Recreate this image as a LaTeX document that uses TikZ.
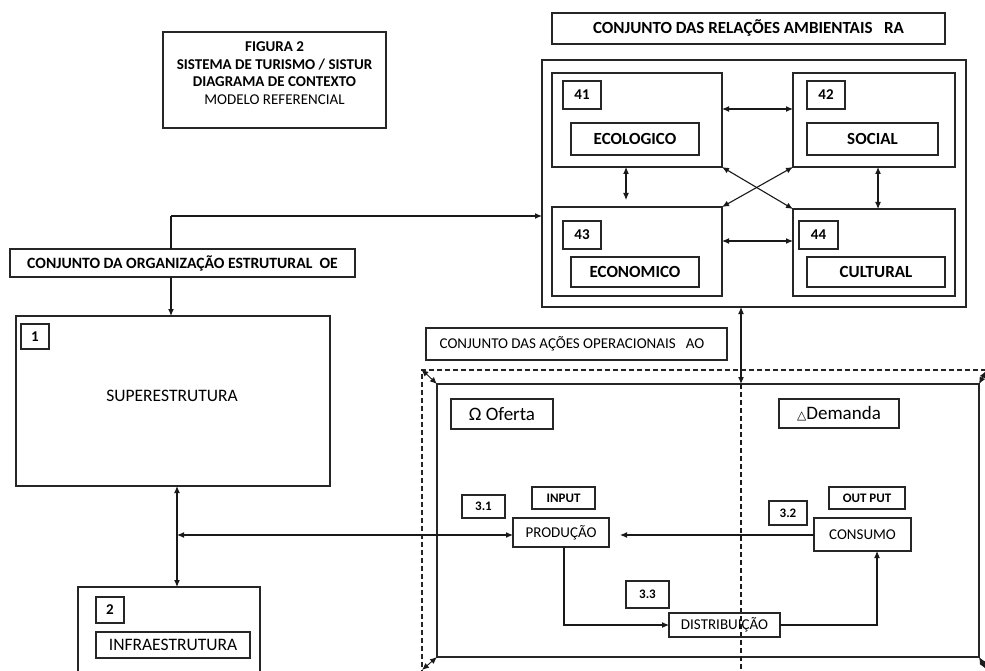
\documentclass[tikz,border=0pt]{standalone}
\usepackage{fontspec}
\setmainfont{Carlito}
\newfontfamily\dejavu{DejaVu Sans}
\usetikzlibrary{arrows.meta,calc}
\tikzset{
  bx/.style={draw=black!85, line width=1.2pt, inner sep=0pt, outer sep=0pt},
  txt/.style={inner sep=0pt, outer sep=0pt},
  arr/.style={line width=1.1pt, draw=black!90, -{Latex[length=7pt,width=6pt]}},
  darr/.style={line width=1.1pt, draw=black!90, {Latex[length=7pt,width=6pt]}-{Latex[length=7pt,width=6pt]}},
  bl/.style={font=\fontsize{15.7}{17}\selectfont\bfseries},
  bigbl/.style={font=\fontsize{17}{18}\selectfont\bfseries},
  num/.style={font=\fontsize{15}{17}\selectfont\bfseries},
  snum/.style={font=\fontsize{13}{15}\selectfont\bfseries},
  nrm/.style={font=\fontsize{15}{17}\selectfont},
  big/.style={font=\fontsize{17.5}{20}\selectfont},
}
\begin{document}
\begin{tikzpicture}[x=1pt,y=-1pt]
\useasboundingbox (0,0) rectangle (985,671);
\clip (0,0) rectangle (985,671);
\fill[white] (0,0) rectangle (985,671);

% title
\node[bx, minimum width=223pt, minimum height=96pt] (tbox) at (274.5,80) {};
\node[txt, align=center, font=\fontsize{15}{17.5}\selectfont] (ttext) at (274.5,73)
  {\bfseries FIGURA 2\\ \bfseries SISTEMA DE TURISMO / SISTUR\\ \bfseries DIAGRAMA DE CONTEXTO\\ MODELO REFERENCIAL};

% RA
\node[bx, font=\fontsize{17}{19}\selectfont\bfseries, minimum width=393pt, minimum height=31pt] (ralab) at (748.5,28.5) {CONJUNTO DAS RELAÇÕES AMBIENTAIS\ \ \ RA};
\node[bx, minimum width=424pt, minimum height=247pt] (ra) at (754,183.5) {};

\node[bx, minimum width=170pt, minimum height=94pt] (e41) at (637,120) {};
\node[bx, num, minimum width=38pt, minimum height=28pt] (l41) at (582,95) {41};
\node[bx, bigbl, minimum width=128pt, minimum height=32pt] (eco) at (635,139) {ECOLOGICO};

\node[bx, minimum width=162pt, minimum height=94pt] (e42) at (874,120) {};
\node[bx, num, minimum width=38pt, minimum height=28pt] (l42) at (826,95) {42};
\node[bx, bigbl, minimum width=131pt, minimum height=32pt] (soc) at (872.5,139) {SOCIAL};

\node[bx, minimum width=170pt, minimum height=89pt] (e43) at (637,251.5) {};
\node[bx, num, minimum width=38pt, minimum height=28pt] (l43) at (582,235) {43};
\node[bx, bigbl, minimum width=128pt, minimum height=30pt] (econ) at (635,272) {ECONOMICO};

\node[bx, minimum width=162pt, minimum height=87pt] (e44) at (874,252.5) {};
\node[bx, num, minimum width=39pt, minimum height=28pt] (l44) at (818.5,235) {44};
\node[bx, bigbl, minimum width=138pt, minimum height=30pt] (cult) at (876,272) {CULTURAL};

\coordinate (ry1) at (0,109);
\coordinate (ry2) at (0,241);
\coordinate (cx1) at (626,200);
\coordinate (cx2) at (878,0);
\draw[darr] (e41.east |- ry1) -- (e42.west |- ry1);
\draw[darr] (e43.east |- ry2) -- (e44.west |- ry2);
\draw[darr] (e41.south -| cx1) -- (cx1);
\draw[darr] (e42.south -| cx2) -- (e44.north -| cx2);
\draw[darr] (e41.south east) -- (e44.north west);
\draw[darr] (e42.south west) -- (e43.north east);

% OE
\node[bx, bl, minimum width=345pt, minimum height=28pt] (oe) at (182.5,263) {CONJUNTO DA ORGANIZAÇÃO ESTRUTURAL\ \ OE};
\node[bx, minimum width=314pt, minimum height=170pt] (sup) at (173,401) {};
\node[bx, num, minimum width=28pt, minimum height=25pt] (l1) at (35,336.5) {1};
\node[txt, big] (suptxt) at (172,396) {SUPERESTRUTURA};
\node[bx, minimum width=182pt, minimum height=113pt] (inf) at (169,643.5) {};
\node[bx, num, minimum width=28pt, minimum height=26pt] (l2) at (110,610) {2};
\node[bx, big, minimum width=154pt, minimum height=26pt] (inftxt) at (173,645) {INFRAESTRUTURA};

\coordinate (oeturn) at (171,216);
\coordinate (supx) at (177,535);
\draw[line width=1.1pt, black!90] (oe.north -| oeturn) -- (oeturn);
\draw[arr] (oeturn) -- (oeturn -| ra.west);
\draw[arr] (oe.south -| oeturn) -- (sup.north -| oeturn);
\draw[darr] (sup.south -| supx) -- (inf.north -| supx);

% AO
\node[bx, minimum width=301pt, minimum height=32pt] (aolab) at (576.5,344) {};
\node[txt, font=\fontsize{15}{17}\selectfont] (aotxt) at (572,344) {CONJUNTO DAS AÇÕES OPERACIONAIS\ \ \ AO};
\node[draw=black!85, line width=1.1pt, dashed, dash pattern=on 5pt off 3pt, minimum width=573pt, minimum height=306pt, inner sep=0pt] (dash) at (708.5,523) {};
\node[bx, minimum width=542pt, minimum height=273pt] (inner) at (708,520.5) {};

\coordinate (aox) at (741,0);
\draw[darr] (ra.south -| aox) -- (inner.north -| aox);
\draw[line width=1.1pt, black!90, dashed, dash pattern=on 5pt off 3pt] (inner.north -| aox) -- (dash.south -| aox);

\coordinate (cne) at (986,371);
\coordinate (cse) at (986,669);
\coordinate (csw) at (422,670);
\draw[darr, line width=0.9pt] (dash.north west) -- (inner.north west);
\draw[darr, line width=0.9pt] (csw) -- (inner.south west);
\draw[darr, line width=0.9pt] (cne) -- (inner.north east);
\draw[darr, line width=0.9pt] (cse) -- (inner.south east);

\node[bx, minimum width=102pt, minimum height=30pt, font=\fontsize{19}{21}\selectfont] (ofe) at (502,414) {Ω Oferta};
\node[bx, minimum width=120pt, minimum height=29pt, font=\fontsize{19}{21}\selectfont] (dem) at (839,413.5) {{\dejavu\fontsize{12}{14}\selectfont △}Demanda};

\node[bx, snum, minimum width=63pt, minimum height=22pt] (inp) at (563.5,498) {INPUT};
\node[bx, snum, minimum width=43pt, minimum height=23pt] (l31) at (483.5,506.5) {3.1};
\node[bx, nrm, minimum width=96pt, minimum height=29pt] (prod) at (561,532.5) {PRODUÇÃO};
\node[bx, snum, minimum width=76pt, minimum height=22pt] (outp) at (867,498) {OUT PUT};
\node[bx, snum, minimum width=38pt, minimum height=24pt] (l32) at (788,513) {3.2};
\node[bx, nrm, minimum width=97pt, minimum height=33pt] (cons) at (862.5,534.5) {CONSUMO};
\node[bx, snum, minimum width=43pt, minimum height=27pt] (l33) at (647.5,594.5) {3.3};
\node[bx, nrm, minimum width=111pt, minimum height=24pt] (dist) at (724.5,625) {DISTRIBUIÇÃO};

\coordinate (parr) at (620,535);
\coordinate (px) at (564,0);
\coordinate (cxx) at (877,0);
\draw[darr] (supx) -- (prod.west |- supx);
\draw[arr] (cons.west |- parr) -- (parr);
\draw[arr] (prod.south -| px) |- (dist.west);
\draw[arr] (dist.east) -| (cons.south -| cxx);
\end{tikzpicture}
\end{document}
